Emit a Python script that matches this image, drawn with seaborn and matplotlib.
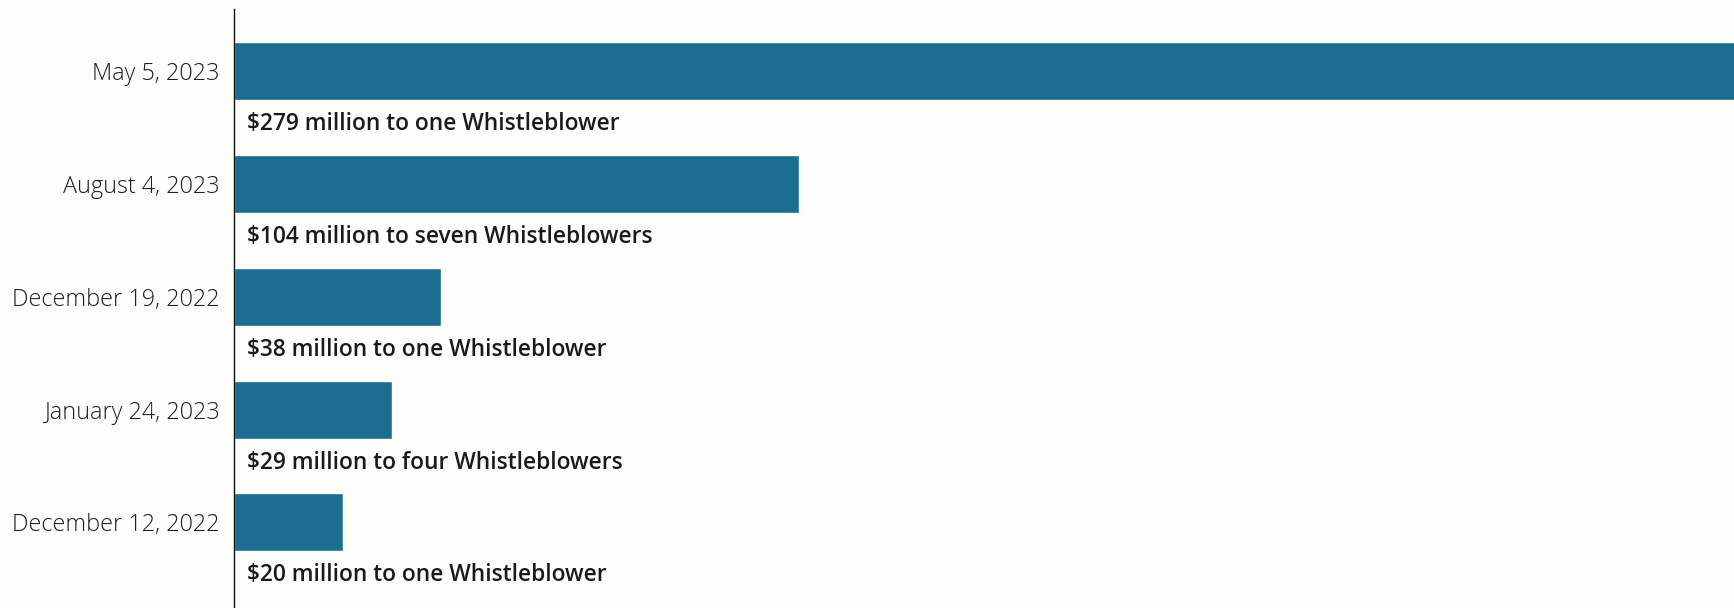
import matplotlib
matplotlib.use("Agg")
import matplotlib.pyplot as plt
import seaborn as sns
import pandas as pd

dates = ["May 5, 2023", "August 4, 2023", "December 19, 2022", "January 24, 2023", "December 12, 2022"]
amounts = [279, 104, 38, 29, 20]
labels = [
    "$279 million to one Whistleblower",
    "$104 million to seven Whistleblowers",
    "$38 million to one Whistleblower",
    "$29 million to four Whistleblowers",
    "$20 million to one Whistleblower",
]

BG = "#fdfdf9"
BAR = "#1c6e91"

sns.set_theme(style="white")
plt.rcParams["font.family"] = ["Open Sans", "DejaVu Sans"]

df = pd.DataFrame({"date": dates, "amount": amounts})

fig = plt.figure(figsize=(17.34, 6.08), dpi=100, facecolor=BG)
ax = fig.add_axes([234 / 1734, 0.0, 1 - 234 / 1734, 1 - 9 / 608])
ax.set_facecolor(BG)

sns.barplot(data=df, x="amount", y="date", orient="h", color=BAR,
            width=0.514, saturation=1, ax=ax)

ax.set_xlim(0, 276)
ax.set_ylim(4.760, -0.5525)
ax.set_xlabel("")
ax.set_ylabel("")
ax.set_xticks([])
ax.tick_params(axis="y", length=0, pad=10.5, labelsize=16.8, labelcolor="#1e1e1e")
for t in ax.get_yticklabels():
    t.set_fontweight("light")
for s in ["top", "right", "bottom"]:
    ax.spines[s].set_visible(False)
ax.spines["left"].set_color("#111111")
ax.spines["left"].set_linewidth(1.0)

for i, lab in enumerate(labels):
    ax.annotate(lab, xy=(0, i + 0.47), xytext=(9.4, 0), textcoords="offset points",
                ha="left", va="center", fontsize=16.4, fontweight="semibold",
                color="#1a1a1a")

fig.savefig("out.png", dpi=100, facecolor=BG)
